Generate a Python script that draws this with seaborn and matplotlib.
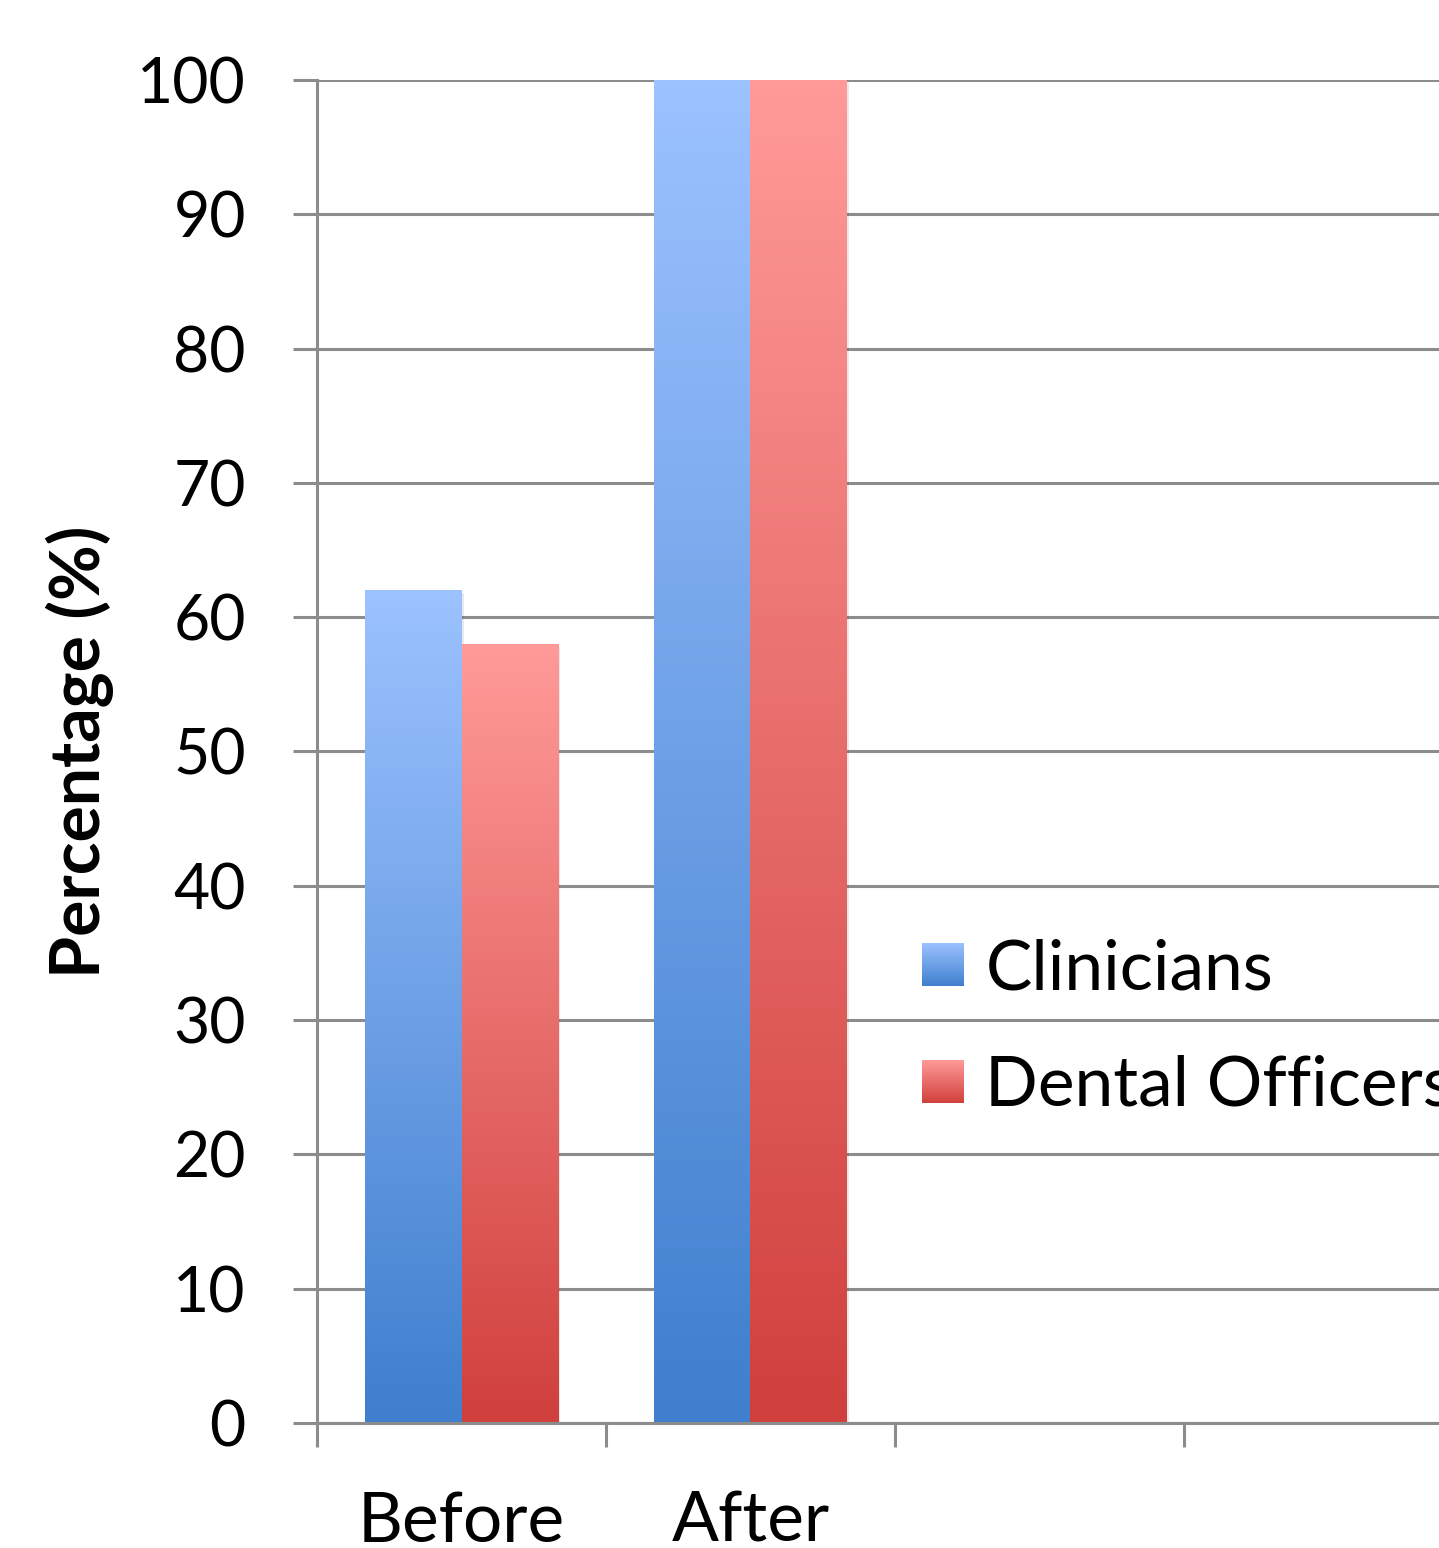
import numpy as np
import pandas as pd
import matplotlib
matplotlib.use("Agg")
import matplotlib.pyplot as plt
import seaborn as sns
from matplotlib.colors import LinearSegmentedColormap
from matplotlib.legend_handler import HandlerBase
from matplotlib.image import BboxImage
from matplotlib.transforms import Bbox, TransformedBbox
from matplotlib.patches import Patch
import matplotlib.patheffects as pe

# data
stages = ["Before", "After"]
groups = ["Clinicians", "Dental Officers"]
clinicians = [62, 100]
dental_officers = [58, 100]
y_ticks = [0, 10, 20, 30, 40, 50, 60, 70, 80, 90, 100]

df = pd.DataFrame({
    "Stage": stages * 2,
    "Group": [groups[0]] * 2 + [groups[1]] * 2,
    "Percentage": clinicians + dental_officers,
})

# gradient colours (bottom, top) for each group
grad_colors = {
    "Clinicians": ("#3f7fce", "#9cc2ff"),
    "Dental Officers": ("#d0403d", "#ff9a98"),
}
cmaps = {g: LinearSegmentedColormap.from_list(g, c) for g, c in grad_colors.items()}
mid_colors = {"Clinicians": "#6d9fe6", "Dental Officers": "#e86d6a"}

grid_col = "#8c8c8c"

sns.set_theme(style="white")
plt.rcParams["font.family"] = ["Lato", "DejaVu Sans"]
plt.rcParams["text.color"] = "black"
plt.rcParams["axes.labelcolor"] = "black"
plt.rcParams["xtick.labelcolor"] = "black"
plt.rcParams["ytick.labelcolor"] = "black"

fig = plt.figure(figsize=(14.39, 15.48), dpi=100)
ax = fig.add_axes([0.2203, 0.0808, 0.8033, 0.8675])

sns.barplot(data=df, x="Stage", y="Percentage", hue="Group", order=stages,
            hue_order=groups, palette=mid_colors, width=0.665, legend=False,
            saturation=1, ax=ax)

# paint gradients over each bar
grad = np.linspace(1, 0, 256).reshape(-1, 1)
for container, g in zip(ax.containers, groups):
    for patch in container:
        patch.set_edgecolor("none")
        patch.set_path_effects([pe.SimplePatchShadow(offset=(2, -2), alpha=0.1), pe.Normal()])
        x0, y0 = patch.get_x(), patch.get_y()
        w, h = patch.get_width(), patch.get_height()
        ax.imshow(grad, extent=[x0, x0 + w, y0, y0 + h], aspect="auto",
                  cmap=cmaps[g], interpolation="bilinear", zorder=patch.get_zorder() + 0.1)

ax.set_xlim(-0.5, 3.5)
ax.set_ylim(0, 100)
ax.set_yticks(y_ticks)
ax.set_xticks([0, 1])
ax.set_xticklabels(stages)
ax.set_xticks([-0.5, 0.5, 1.5, 2.5, 3.5], minor=True)

ax.set_axisbelow(True)
ax.yaxis.grid(True, color=grid_col, linewidth=2.2)
ax.xaxis.grid(False)
for s in ["top", "right"]:
    ax.spines[s].set_visible(False)
for s in ["left", "bottom"]:
    ax.spines[s].set_color(grid_col)
    ax.spines[s].set_linewidth(2.2)

ax.tick_params(axis="y", which="major", direction="out", length=17.3, width=2.2,
               color=grid_col, pad=34, labelsize=45, left=True)
ax.tick_params(axis="x", which="major", length=0, pad=49, labelsize=50)
ax.tick_params(axis="x", which="minor", direction="out", length=17.3, width=2.2,
               color=grid_col, bottom=True)

ax.set_xlabel("")
ax.set_ylabel("Percentage (%)", fontsize=49, fontweight="bold")
ax.yaxis.set_label_coords(-0.176, 0.5)


class GradientHandler(HandlerBase):
    def __init__(self, cmap):
        super().__init__()
        self.cmap = cmap

    def create_artists(self, legend, orig_handle, xdescent, ydescent, width, height,
                       fontsize, trans):
        bbox = TransformedBbox(Bbox.from_bounds(-xdescent, -ydescent, width, height), trans)
        img = BboxImage(bbox, cmap=self.cmap, interpolation="bilinear", origin="upper")
        img.set_data(grad)
        return [img]


handles = [Patch(label=g) for g in groups]
ax.legend(handles=handles, labels=groups, loc="center left",
          bbox_to_anchor=(0.523, 0.294), frameon=False, fontsize=50,
          handlelength=0.6, handleheight=0.57, handletextpad=0.32,
          labelspacing=0.77, borderpad=0, borderaxespad=0,
          handler_map={h: GradientHandler(cmaps[g]) for h, g in zip(handles, groups)})

fig.savefig("out.png", dpi=100)
